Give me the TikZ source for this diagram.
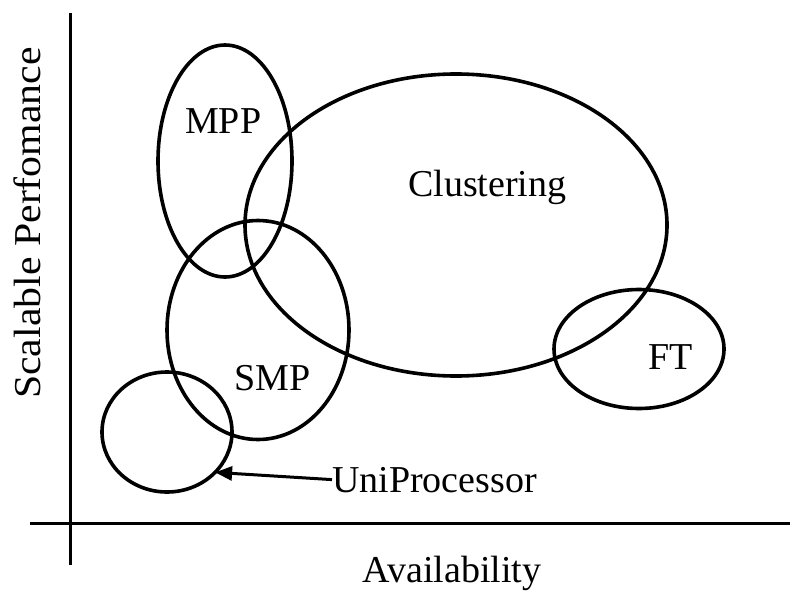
\documentclass[tikz,border=0pt]{standalone}
\usepackage{fontspec}
\setmainfont{Liberation Serif}
\usetikzlibrary{shapes.geometric,arrows.meta}
\begin{document}
\begin{tikzpicture}[x=1pt,y=-1pt,
  region/.style={ellipse,draw,line width=3.6pt,inner sep=0pt,outer sep=0pt},
  lbl/.style={inner sep=0pt,font=\fontsize{38}{40}\selectfont},
  axis/.style={line width=3pt}]
\useasboundingbox (0,0) rectangle (791,591);
% axes
\coordinate (ytop) at (70,13);
\coordinate (ybot) at (70,565);
\coordinate (xl) at (30,523);
\coordinate (xr) at (790,523);
\draw[axis] (ytop) -- (ybot);
\draw[axis] (xl) -- (xr);
% regions
\node[region,minimum width=134pt,minimum height=232pt] (mppe) at (225,161) {};
\node[region,minimum width=422pt,minimum height=302pt] (cle) at (456,225) {};
\node[region,minimum width=182pt,minimum height=219pt] (smpe) at (258,330) {};
\node[region,minimum width=170pt,minimum height=119pt] (fte) at (639,349) {};
\node[region,minimum width=130pt,minimum height=120pt] (unie) at (167,432) {};
% labels
\node[lbl,anchor=base west] (mpp) at (185,133) {MPP};
\node[lbl,anchor=base west] (cl) at (408,196) {Clustering};
\node[lbl,anchor=base west] (smp) at (234,390) {SMP};
\node[lbl,anchor=base west] (ft) at (648,369) {FT};
\node[lbl,anchor=base west] (uni) at (332,492) {UniProcessor};
\node[lbl,anchor=base] (av) at (452,582) {Availability};
\node[lbl,anchor=base,rotate=90] (sp) at (40,223) {\scalebox{1.1}[1]{Scalable Perfomance}};
% pointer
\draw[line width=3pt,-{Triangle[length=17pt,width=14pt]}] (uni.west) -- (unie.-40.5);
\end{tikzpicture}
\end{document}
